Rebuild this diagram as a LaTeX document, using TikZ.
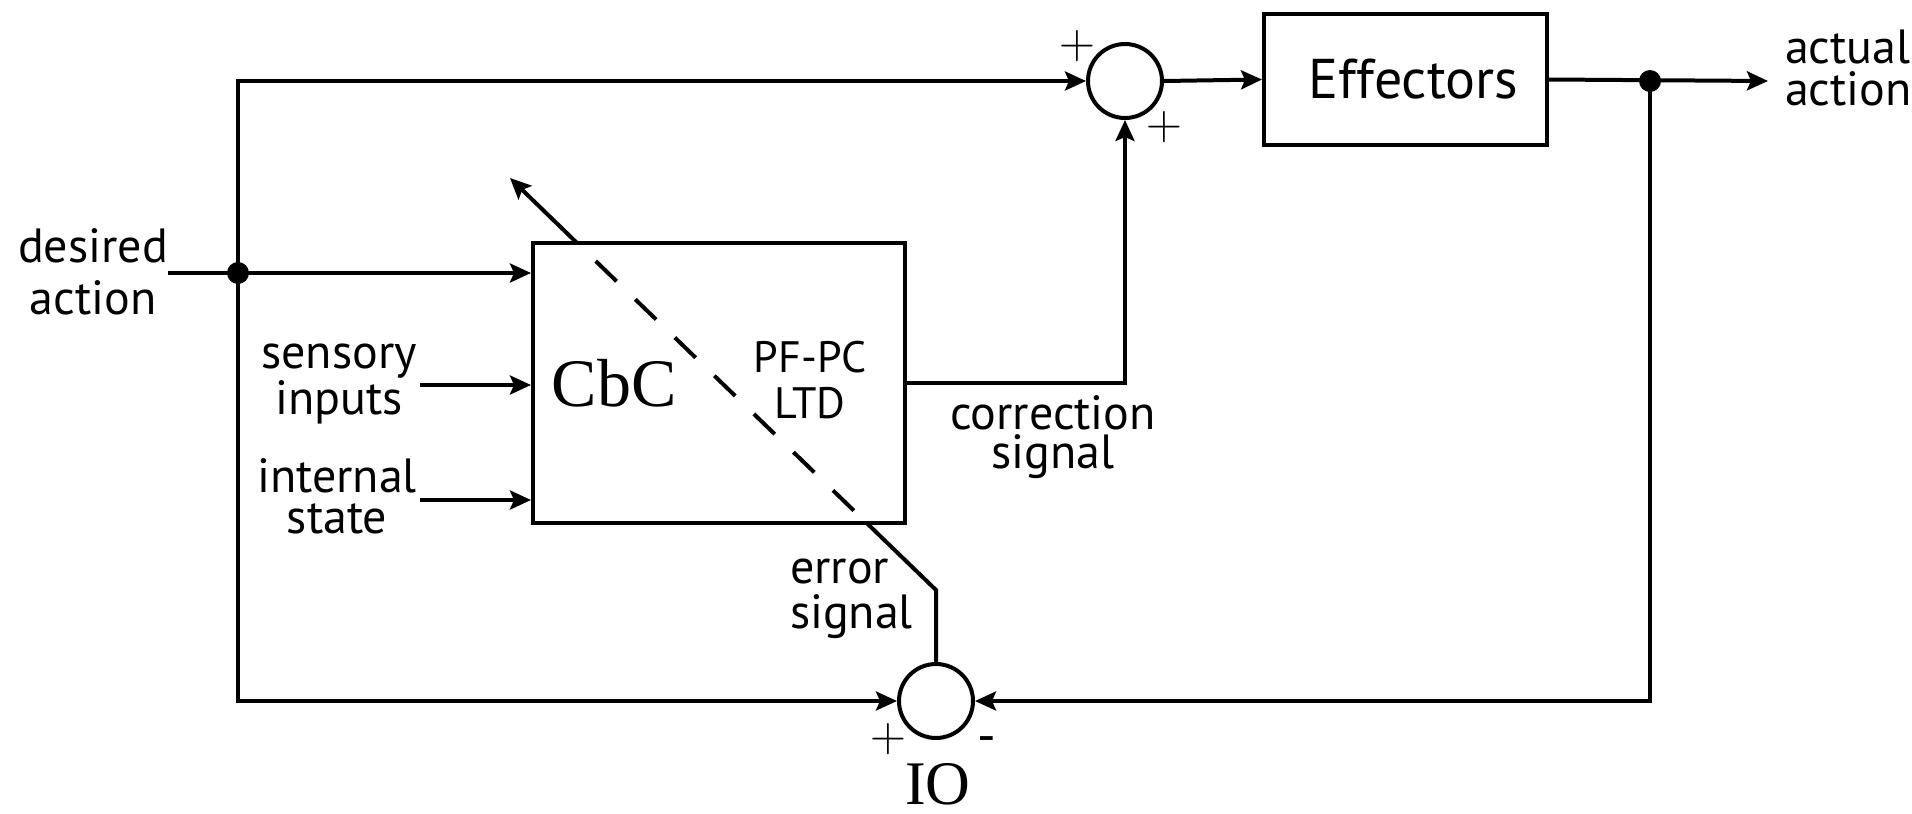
\documentclass[tikz,border=0pt]{standalone}
\usepackage{fontspec}
\setmainfont{PT Sans}
\newfontfamily\serifface{Liberation Serif}
\usetikzlibrary{arrows.meta,calc}
\begin{document}
\begin{tikzpicture}[x=0.5pt,y=-0.5pt,
  line width=2pt,
  tip/.tip={Stealth[length=10.5pt,width=9.5pt,inset=2pt]},
  arr/.style={-tip},
  ml/.style={inner sep=0pt, anchor=base, align=center},
  mlw/.style={inner sep=0pt, anchor=base west, align=left},
  sgn/.style={font=\fontsize{30}{30}\selectfont, inner sep=0pt},
  blk/.style={draw, rectangle, inner sep=0pt},
  sumc/.style={draw, circle, minimum size=37pt, inner sep=0pt},
  dotc/.style={fill, circle, minimum size=11pt, inner sep=0pt},
  errdash/.style={dash pattern=on 14.5pt off 13pt, dash phase=14.5pt},
  bigserif/.style={font=\serifface\fontsize{34}{34}\selectfont, inner sep=0pt},
]
\useasboundingbox (0,0) rectangle (1912,814);

% blocks
\node[blk, minimum width=186pt, minimum height=140pt] (cbc) at (719,383) {};
\node[bigserif] (cbct) at (614,383) {CbC};
\node[ml, font=\fontsize{22}{23}\selectfont] (pf) at (810,418) {PF-PC\\LTD};
\node[blk, minimum width=141.5pt, minimum height=65.5pt, font=\fontsize{28}{28}\selectfont] (eff) at (1405.5,79.5) {\hspace*{8pt}Effectors};

% summing junctions and dots
\node[sumc] (s1) at (1125,81) {};
\node[sumc] (s2) at (936,701) {};
\node[dotc] (j1) at (238,273) {};
\node[dotc] (j2) at (1650,81) {};

% helper coordinates
\coordinate (tl) at (238,81);
\coordinate (bl) at (238,701);
\coordinate (br) at (1650,701);
\coordinate (din) at (168,273);
\coordinate (sin) at (420,385);
\coordinate (iin) at (420,500);
\coordinate (aout) at (1768,81);
\coordinate (kink) at (936,590);
\coordinate (etip) at (510,178);
\coordinate (cbot) at (866.7,523);
\coordinate (ctop) at (577,243);

% connectors
\draw[arr] (din) -- (j1.center) -- (cbc.west |- j1);
\draw[arr] (sin) -- (cbc.west |- sin);
\draw[arr] (iin) -- (cbc.west |- iin);
\draw[tip-tip] (s1.west) -- (tl) -- (bl) -- (s2.west);
\draw[arr] (s1.east) -- (eff.west);
\draw[arr] (eff.east) -- (aout);
\draw[arr] (j2.center) -- (br) -- (s2.east);
\draw[arr] (cbc.east) -| (s1.south);
\draw (s2.north) -- (kink) -- (cbot);
\draw[errdash] (ctop) -- (cbot);
\draw[arr] (ctop) -- (etip);

% labels
\node[ml, font=\fontsize{24}{26}\selectfont] (l1) at (93,314) {desired\\action};
\node[ml, font=\fontsize{24}{20.5}\selectfont] (l2) at (339,414) {sensory\\inputs};
\node[ml, font=\fontsize{24}{20.5}\selectfont] (l3) at (337,533) {internal\\state};
\node[ml, font=\fontsize{24}{19.5}\selectfont] (l4) at (1053,468) {correction\\signal};
\node[mlw, font=\fontsize{24}{22.5}\selectfont] (l5) at (788,628) {error\\signal};
\node[mlw, font=\fontsize{24}{21}\selectfont] (l6) at (1783,105) {actual\\action};

% signs
\node[sgn] (p1) at (1077,46) {$+$};
\node[sgn] (p2) at (1164,127) {$+$};
\node[sgn] (p3) at (888,739) {$+$};
\node[sgn, font=\fontsize{26}{26}\selectfont] (m1) at (987,745) {-};
\node[bigserif, font=\serifface\fontsize{31}{31}\selectfont] (io) at (938,784) {IO};
\end{tikzpicture}
\end{document}
